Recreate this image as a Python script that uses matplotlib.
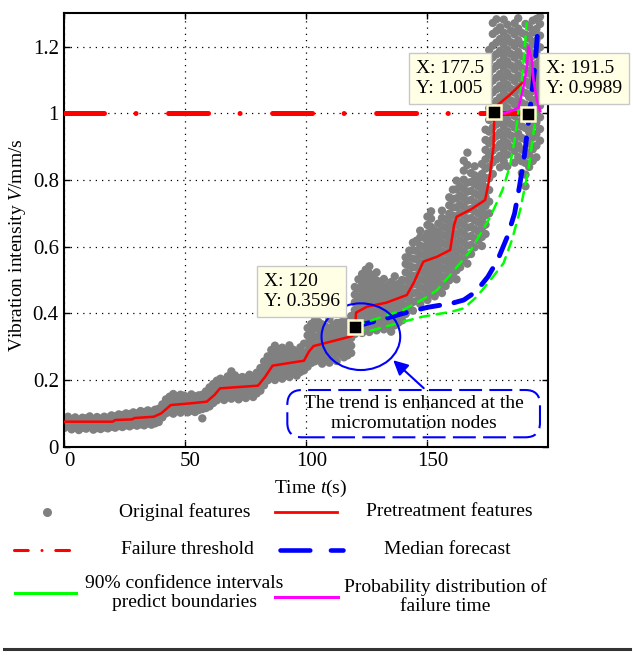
import matplotlib
matplotlib.use('Agg')
import matplotlib.pyplot as plt
from matplotlib.lines import Line2D
from matplotlib.patches import Ellipse, FancyBboxPatch
from matplotlib.transforms import ScaledTranslation

plt.rcParams['font.family'] = 'Liberation Serif'
plt.rcParams['mathtext.fontset'] = 'custom'
plt.rcParams['mathtext.rm'] = 'Liberation Serif'
plt.rcParams['mathtext.it'] = 'Liberation Serif:italic'
plt.rcParams['font.size'] = 14

# original features: sample times and the values read at each time
feat_t = [0, 1.5, 3, 4.5, 6, 7.5, 9, 10.5, 12, 13.5, 15, 16.5, 18, 19.5, 21, 22.5, 24, 25.5, 27, 28.5,
          30, 31.5, 33, 34.5, 36, 37.5, 39, 40.5, 42, 43.5, 45, 46.5, 48, 49.5, 51, 52.5, 54, 55.5, 57, 58.5,
          60, 61.5, 63, 64.5, 66, 67.5, 69, 70.5, 72, 73.5, 75, 76.5, 78, 79.5, 81, 82.5, 84, 85.5, 87, 88.5,
          90, 91.5, 93, 94.5, 96, 97.5, 99, 100.5, 102, 103.5, 105, 106.5, 108, 109.5, 111, 112.5, 114, 115.5, 117, 118.5,
          120, 121.5, 123, 124.5, 126, 127.5, 129, 130.5, 132, 133.5, 135, 136.5, 138, 139.5, 141, 142.5, 144, 145.5, 147, 148.5,
          150, 151.5, 153, 154.5, 156, 157.5, 159, 160.5, 162, 163.5, 165, 166.5, 168, 169.5, 171, 172.5, 174, 175.5, 177, 178.5,
          180, 181.5, 183, 184.5, 186, 187.5, 189, 190.5, 192, 193.5, 195, 196.5]
feat_v = [
    [0.056, 0.071, 0.086], [0.061, 0.076, 0.09], [0.052, 0.067, 0.082], [0.058, 0.074, 0.088],
    [0.05, 0.065, 0.08], [0.057, 0.072, 0.087], [0.054, 0.07, 0.085], [0.059, 0.075, 0.091],
    [0.051, 0.066, 0.081], [0.056, 0.071, 0.089], [0.053, 0.069, 0.084], [0.058, 0.074, 0.09],
    [0.055, 0.071, 0.087], [0.06, 0.077, 0.094], [0.057, 0.075, 0.091], [0.062, 0.079, 0.097],
    [0.059, 0.078, 0.095], [0.064, 0.082, 0.1], [0.061, 0.08, 0.098], [0.066, 0.085, 0.103],
    [0.063, 0.083, 0.1], [0.067, 0.087, 0.107], [0.064, 0.085, 0.104], [0.07, 0.09, 0.109],
    [0.066, 0.087, 0.105], [0.07, 0.091, 0.111], [0.074, 0.096, 0.114], [0.088, 0.107, 0.127],
    [0.1, 0.12, 0.142], [0.104, 0.126, 0.15], [0.099, 0.121, 0.145, 0.158], [0.107, 0.128, 0.149],
    [0.102, 0.124, 0.147, 0.156], [0.11, 0.131, 0.153], [0.103, 0.126, 0.149], [0.108, 0.132, 0.157],
    [0.104, 0.127, 0.151], [0.11, 0.131, 0.154], [0.085, 0.113, 0.136, 0.156], [0.116, 0.134, 0.151, 0.166],
    [0.121, 0.139, 0.158, 0.178], [0.131, 0.15, 0.169, 0.188], [0.139, 0.158, 0.178, 0.198], [0.146, 0.165, 0.185, 0.204],
    [0.14, 0.159, 0.179, 0.199], [0.148, 0.167, 0.189, 0.211], [0.144, 0.163, 0.183, 0.204, 0.226], [0.151, 0.171, 0.192, 0.214],
    [0.142, 0.162, 0.183, 0.205], [0.15, 0.169, 0.189, 0.209], [0.146, 0.166, 0.187, 0.207], [0.155, 0.175, 0.196, 0.216],
    [0.149, 0.169, 0.19, 0.212], [0.16, 0.18, 0.2, 0.222], [0.168, 0.19, 0.212, 0.236], [0.184, 0.207, 0.231, 0.256],
    [0.199, 0.222, 0.246, 0.271], [0.206, 0.229, 0.252, 0.27, 0.29], [0.2, 0.222, 0.245, 0.267, 0.289, 0.303],
    [0.211, 0.234, 0.257, 0.282],
    [0.204, 0.226, 0.249, 0.273, 0.297], [0.214, 0.237, 0.261, 0.286], [0.209, 0.231, 0.254, 0.279, 0.304],
    [0.219, 0.242, 0.266, 0.291], [0.213, 0.236, 0.26, 0.284], [0.224, 0.248, 0.273, 0.298], [0.229, 0.254, 0.28, 0.309],
    [0.24, 0.263, 0.287, 0.311, 0.334, 0.356], [0.251, 0.274, 0.298, 0.322, 0.345, 0.368],
    [0.256, 0.279, 0.304, 0.329, 0.354, 0.379], [0.262, 0.285, 0.308, 0.331, 0.353, 0.374],
    [0.249, 0.272, 0.296, 0.32, 0.344, 0.367], [0.266, 0.29, 0.313, 0.337, 0.36],
    [0.252, 0.277, 0.302, 0.328, 0.355, 0.383], [0.27, 0.293, 0.317, 0.341, 0.364],
    [0.257, 0.281, 0.305, 0.329, 0.351, 0.371], [0.278, 0.301, 0.324, 0.348, 0.372],
    [0.268, 0.291, 0.314, 0.337, 0.36, 0.382], [0.274, 0.297, 0.32, 0.343, 0.366],
    [0.281, 0.303, 0.326, 0.349, 0.371, 0.392],
    [0.338, 0.362, 0.386, 0.41, 0.433, 0.456, 0.479], [0.352, 0.376, 0.4, 0.424, 0.449, 0.475, 0.502],
    [0.341, 0.366, 0.391, 0.417, 0.442, 0.468, 0.493, 0.518], [0.36, 0.384, 0.409, 0.434, 0.458, 0.483, 0.507, 0.531],
    [0.344, 0.369, 0.394, 0.419, 0.445, 0.47, 0.495, 0.52, 0.541], [0.362, 0.387, 0.411, 0.436, 0.461, 0.486, 0.512],
    [0.349, 0.374, 0.399, 0.424, 0.449, 0.474, 0.499, 0.523], [0.366, 0.391, 0.416, 0.441, 0.466, 0.489],
    [0.352, 0.377, 0.402, 0.427, 0.452, 0.478, 0.503], [0.361, 0.386, 0.411, 0.436, 0.46, 0.482],
    [0.345, 0.37, 0.395, 0.42, 0.445, 0.47, 0.494], [0.364, 0.388, 0.413, 0.438, 0.462, 0.487, 0.511],
    [0.372, 0.396, 0.421, 0.445, 0.467, 0.488], [0.379, 0.403, 0.428, 0.453, 0.477, 0.5],
    [0.398, 0.423, 0.448, 0.473, 0.498, 0.523, 0.548, 0.568], [0.418, 0.443, 0.468, 0.493, 0.518, 0.543, 0.567, 0.588],
    [0.408, 0.434, 0.46, 0.486, 0.512, 0.538, 0.564, 0.59, 0.612], [0.437, 0.462, 0.487, 0.512, 0.537, 0.562, 0.587, 0.618],
    [0.428, 0.453, 0.478, 0.503, 0.528, 0.553, 0.578, 0.603, 0.628, 0.648],
    [0.449, 0.474, 0.499, 0.524, 0.549, 0.574, 0.599, 0.627],
    [0.44, 0.465, 0.49, 0.515, 0.54, 0.565, 0.59, 0.615, 0.64, 0.665, 0.69],
    [0.459, 0.484, 0.509, 0.534, 0.559, 0.584, 0.609, 0.634, 0.659, 0.684, 0.706],
    [0.451, 0.476, 0.501, 0.526, 0.551, 0.576, 0.601, 0.626, 0.648],
    [0.468, 0.493, 0.518, 0.543, 0.568, 0.593, 0.618, 0.643, 0.669],
    [0.461, 0.486, 0.511, 0.536, 0.561, 0.586, 0.611, 0.636, 0.661, 0.686, 0.708],
    [0.482, 0.507, 0.532, 0.557, 0.582, 0.607, 0.632, 0.657, 0.682],
    [0.499, 0.524, 0.549, 0.574, 0.599, 0.624, 0.649, 0.674, 0.699, 0.724, 0.748],
    [0.518, 0.543, 0.568, 0.593, 0.618, 0.643, 0.668, 0.693, 0.718, 0.743, 0.771],
    [0.502, 0.529, 0.556, 0.583, 0.61, 0.637, 0.664, 0.691, 0.718, 0.745, 0.772, 0.798],
    [0.538, 0.565, 0.592, 0.619, 0.646, 0.673, 0.7, 0.727, 0.754, 0.781],
    [0.558, 0.585, 0.612, 0.639, 0.666, 0.693, 0.72, 0.747, 0.774, 0.801, 0.828, 0.858],
    [0.549, 0.576, 0.603, 0.63, 0.657, 0.684, 0.711, 0.738, 0.765, 0.792, 0.845, 0.882],
    [0.578, 0.605, 0.632, 0.659, 0.686, 0.713, 0.74, 0.767, 0.794, 0.821],
    [0.598, 0.625, 0.652, 0.679, 0.706, 0.733, 0.76, 0.787, 0.814, 0.841],
    [0.619, 0.646, 0.673, 0.7, 0.727, 0.754, 0.781, 0.8],
    [0.602, 0.629, 0.656, 0.683, 0.71, 0.737, 0.764, 0.791, 0.818, 0.848],
    [0.638, 0.666, 0.694, 0.722, 0.75, 0.778, 0.806, 0.834, 0.862, 0.89, 0.92, 0.951],
    [0.7, 0.735, 0.77, 0.805, 0.84, 0.875, 0.91, 0.945, 0.98, 1.015, 1.05, 1.085, 1.12, 1.155, 1.19],
    [0.818, 0.853, 0.888, 0.923, 0.958, 0.993, 1.028, 1.063, 1.098, 1.133, 1.168, 1.203, 1.238, 1.271],
    [0.862, 0.897, 0.932, 0.967, 1.002, 1.037, 1.072, 1.107, 1.142, 1.177, 1.212, 1.247, 1.282],
    [0.838, 0.873, 0.908, 0.943, 0.978, 1.013, 1.048, 1.083, 1.118, 1.153, 1.188, 1.223, 1.258],
    [0.857, 0.892, 0.927, 0.962, 0.997, 1.032, 1.067, 1.102, 1.137, 1.172, 1.207, 1.242, 1.281],
    [0.841, 0.876, 0.911, 0.946, 0.981, 1.016, 1.051, 1.086, 1.121, 1.156, 1.191, 1.226, 1.266],
    [0.898, 0.933, 0.968, 1.003, 1.038, 1.073, 1.108, 1.143, 1.178, 1.213, 1.248],
    [0.852, 0.887, 0.922, 0.957, 0.992, 1.027, 1.062, 1.097, 1.132, 1.167, 1.202, 1.237, 1.27],
    [0.869, 0.904, 0.939, 0.974, 1.009, 1.044, 1.079, 1.114, 1.149, 1.184, 1.219, 1.254, 1.285],
    [0.821, 0.856, 0.891, 0.926, 0.961, 0.996, 1.031, 1.066, 1.101, 1.136, 1.171, 1.206, 1.241],
    [0.781, 0.816, 0.851, 0.886, 0.921, 0.956, 0.991, 1.026, 1.061, 1.096, 1.131, 1.166, 1.201, 1.236, 1.268],
    [0.839, 0.874, 0.909, 0.944, 0.979, 1.014, 1.049, 1.084, 1.119, 1.154, 1.189, 1.224, 1.259],
    [0.857, 0.892, 0.927, 0.962, 0.997, 1.032, 1.067, 1.102, 1.137, 1.172, 1.207, 1.242, 1.278],
    [0.868, 0.903, 0.938, 0.973, 1.008, 1.043, 1.078, 1.113, 1.148, 1.183, 1.218, 1.253, 1.283],
    [0.918, 0.953, 0.988, 1.023, 1.058, 1.093, 1.128, 1.163, 1.198, 1.233, 1.268, 1.29],
]

# pretreatment features (red)
pre_t = [0, 20, 21, 28, 29, 37, 40, 44, 52, 58.8, 62, 64.3, 72, 80, 83, 86, 92, 99, 101, 103, 110, 118, 120,
         120.5, 125, 133, 141.5, 144.2, 148.3, 154, 159.4, 161, 162.1, 168, 173.8, 175.5, 177.3, 177.6, 179, 184, 189]
pre_v = [0.075, 0.075, 0.08, 0.082, 0.086, 0.09, 0.1, 0.125, 0.13, 0.135, 0.155, 0.175, 0.179, 0.183, 0.21, 0.243,
         0.25, 0.258, 0.285, 0.302, 0.315, 0.33, 0.336,
         0.402, 0.42, 0.432, 0.455, 0.49, 0.555, 0.57, 0.59, 0.665, 0.69, 0.712, 0.74, 0.8, 0.9, 1.0, 1.025, 1.055, 1.09]

thr_t = [0, 200]
thr_v = [1.0, 1.0]

med_t = [120, 125, 133, 140, 150, 160, 165, 170, 175, 179, 183, 186, 188, 190, 191.5, 193, 194.5, 195.5]
med_v = [0.36, 0.37, 0.385, 0.4, 0.418, 0.43, 0.44, 0.465, 0.51, 0.56, 0.63, 0.7, 0.78, 0.87, 0.96, 1.05, 1.15, 1.245]

ci_up_t = [120, 124, 140, 150, 154, 160, 168, 176, 181, 184, 186, 187.5, 189, 190, 191]
ci_up_v = [0.36, 0.372, 0.41, 0.45, 0.47, 0.52, 0.59, 0.69, 0.77, 0.84, 0.92, 1.0, 1.1, 1.18, 1.27]
ci_lo_t = [120, 125, 140, 148, 160, 165, 170.4, 176, 181.4, 184.9, 188.3, 191.7, 193.8, 195]
ci_lo_v = [0.36, 0.345, 0.375, 0.39, 0.405, 0.415, 0.45, 0.5, 0.55, 0.62, 0.71, 0.83, 0.94, 1.0]

pdf_t = [177.5, 182, 187.6, 189.7, 191.1, 191.7, 193.1, 193.8, 195.2, 196.6]
pdf_v = [1.0, 1.0, 1.016, 1.08, 1.14, 1.2, 1.16, 1.1, 1.04, 1.006]

tip_t = [120, 177.5, 191.5]
tip_v = [0.3596, 1.005, 0.9989]

xs, ys = [], []
for t, vals in zip(feat_t, feat_v):
    for v in vals:
        xs.append(t)
        ys.append(v)

fig = plt.figure(figsize=(6.33, 6.61), dpi=100)
ax = fig.add_axes([0.1016, 0.3242, 0.7649, 0.6557])

ax.scatter(xs, ys, s=36, c='#808080', edgecolors='none', zorder=2)
ax.plot(pre_t, pre_v, color='red', lw=1.8, zorder=4)
ax.plot(thr_t, thr_v, color='red', lw=3.6, dashes=(8, 6.3, 0.01, 6.5),
        dash_capstyle='round', zorder=3)
ax.plot(med_t, med_v, color='blue', lw=3.5, dashes=(4, 3), dash_capstyle='round', zorder=5)
ax.plot(ci_up_t, ci_up_v, color='#00ff00', lw=1.8, dashes=(3.8, 3), dash_capstyle='round', zorder=5)
ax.plot(ci_lo_t, ci_lo_v, color='#00ff00', lw=1.8, dashes=(3.8, 3), dash_capstyle='round', zorder=5)
ax.plot(pdf_t, pdf_v, color='#ff00ff', lw=1.8, zorder=6)

# data tips
ax.plot(tip_t, tip_v, 's', ms=10.4, mfc='black', mec='#fffbd0', mew=1.8, zorder=8, clip_on=False)
offs = [(-11, 12, 'right'), (-7, 10.5, 'right'), (13, 12, 'left')]
for t, v, (dx, dy, ha) in zip(tip_t, tip_v, offs):
    ax.annotate(f'X: {t:g}\nY: {v:g}', xy=(t, v), xytext=(dx, dy), textcoords='offset points',
                ha=ha, va='bottom', multialignment='left', fontsize=14, linespacing=1.25,
                annotation_clip=False, zorder=9,
                bbox=dict(boxstyle='square,pad=0.35', fc='#ffffe6', ec='#c8c8c8', lw=1))

# annotation: ellipse, arrow and dashed box
ax.add_patch(Ellipse((122.5, 0.33), 32.5, 0.2, fill=False, ec='blue', lw=1.5, zorder=7))
ax.annotate('', xy=(135, 0.265), xytext=(149.3, 0.17),
            arrowprops=dict(arrowstyle='-|>', color='blue', lw=1.5, mutation_scale=22), zorder=7)
ax.add_patch(FancyBboxPatch((0.4606, 0.0217), 0.5218, 0.1091, transform=ax.transAxes,
                            boxstyle='round,pad=0,rounding_size=0.03', mutation_aspect=484 / 433,
                            fill=False, ec='blue', lw=1.5, ls=(0, (11, 3.5)), zorder=7))
ax.text(0.7213, 0.076, 'The trend is enhanced at the\nmicromutation nodes', transform=ax.transAxes,
        ha='center', va='center', fontsize=14, linespacing=1.2, zorder=7)

ax.set_xlim(0, 200)
ax.set_ylim(0, 1.3)
ax.set_xticks([0, 50, 100, 150])
yt = [0, 0.2, 0.4, 0.6, 0.8, 1.0, 1.2]
ax.set_yticks(yt)
ax.set_yticklabels([f'{v:g}' for v in yt])
ax.tick_params(direction='in', top=True, right=True, length=4, width=1, labelsize=15, pad=4)
shift = ScaledTranslation(5 / 100, 0, fig.dpi_scale_trans)
for lab in ax.get_xticklabels():
    lab.set_transform(lab.get_transform() + shift)
ax.grid(True, color='black', linestyle=(0, (1, 4)), lw=0.9)
ax.set_axisbelow(True)
for s in ax.spines.values():
    s.set_linewidth(1.5)

ax.set_xlabel('Time $t$(s)', fontsize=14)
ax.xaxis.set_label_coords(0.508, -0.072)
ax.set_ylabel('Vibration intensity $V$/mm/s', fontsize=14)
ax.yaxis.set_label_coords(-0.075, 0.465)

# legend below the axes, built in figure pixels
W, H = 633, 661
def fp(x, y):
    return x / W, 1 - y / H

def handle(x0, x1, y, **kw):
    fig.add_artist(Line2D([x0 / W, x1 / W], [1 - y / H, 1 - y / H], transform=fig.transFigure, **kw))

fig.add_artist(Line2D([46.7 / W], [1 - 511.7 / H], transform=fig.transFigure, marker='o', ms=6.5,
                      mfc='#808080', mec='none', ls='none'))
fig.text(*fp(185, 511.7), 'Original features', ha='center', va='center', fontsize=14)
handle(275, 337, 511.7, color='red', lw=2)
fig.text(*fp(449.7, 511.7), 'Pretreatment features', ha='center', va='center', fontsize=14)
handle(14, 78, 550, color='red', lw=2.2, dashes=(4.5, 4.5, 0.01, 4.5), dash_capstyle='round')
fig.text(*fp(187, 550), 'Failure threshold', ha='center', va='center', fontsize=14)
handle(280, 343, 550, color='blue', lw=3.3, dashes=(6.5, 4.5), dash_capstyle='round')
fig.text(*fp(447.5, 550), 'Median forecast', ha='center', va='center', fontsize=14)
handle(15, 76, 592.7, color='#00ff00', lw=2.2)
fig.text(*fp(184, 593), '90% confidence intervals\npredict boundaries', ha='center', va='center',
         fontsize=14, linespacing=1.2)
handle(275, 338, 596.7, color='#ff00ff', lw=2.2)
fig.text(*fp(445, 596.7), 'Probability distribution of\nfailure time', ha='center', va='center',
         fontsize=14, linespacing=1.2)

fig.add_artist(Line2D([4 / W, 630 / W], [1 - 649 / H, 1 - 649 / H], transform=fig.transFigure,
                      color='#333333', lw=2.2))

fig.savefig('out.png', dpi=100)
